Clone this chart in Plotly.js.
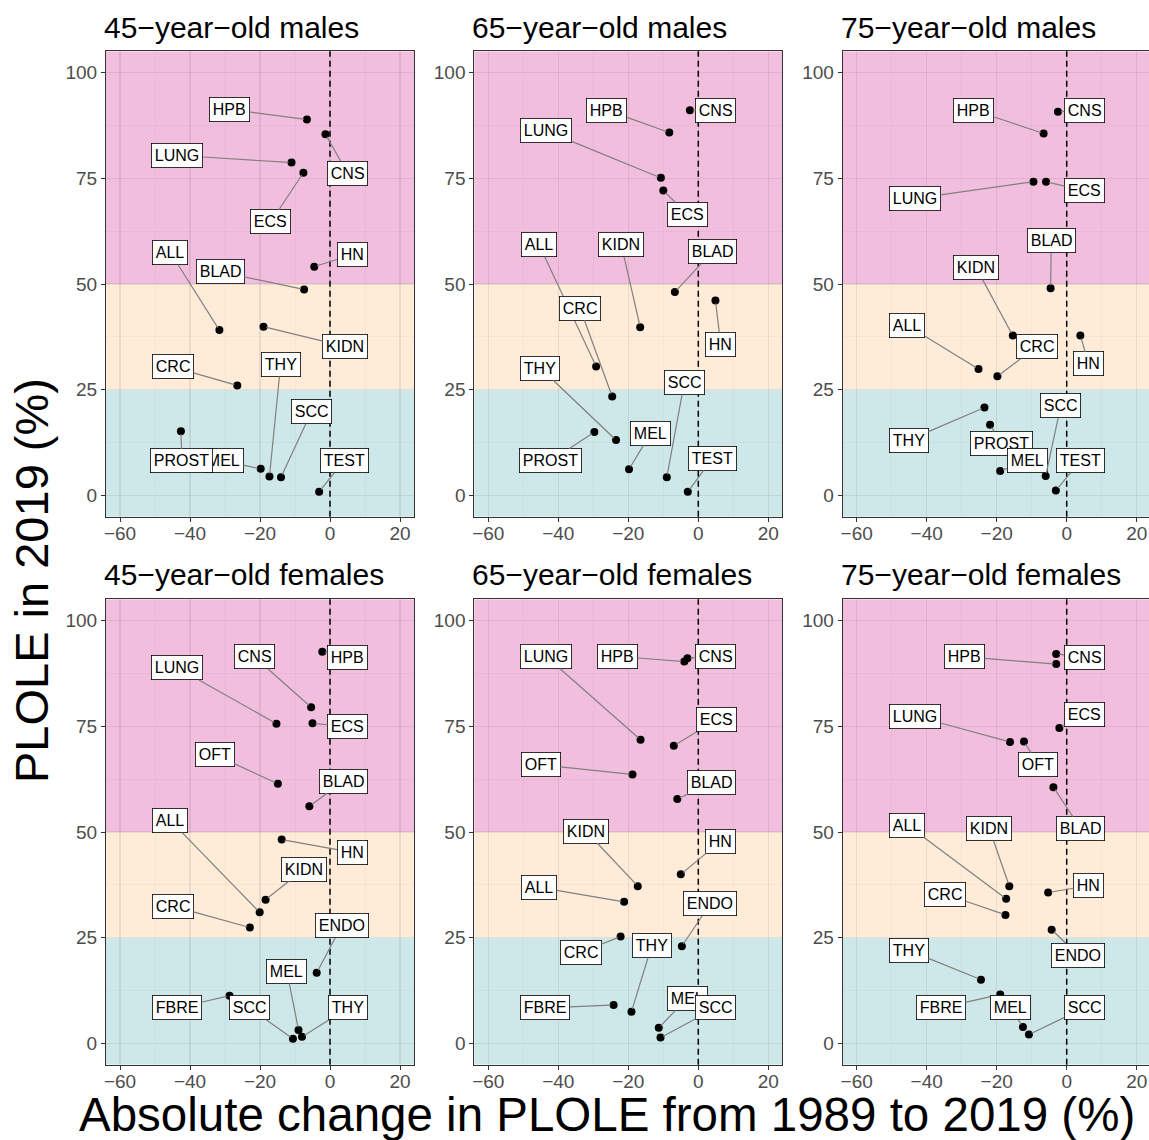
<!DOCTYPE html>
<html><head><meta charset="utf-8">
<script src="https://cdn.plot.ly/plotly-3.0.1.min.js"></script>
<style>html,body{margin:0;padding:0;background:#fff}</style>
</head><body><div id="chart" style="width:1149px;height:1140px"></div>
<script>
// ---------- DATA ----------
const panelTitles = ["45\u2212year\u2212old males","65\u2212year\u2212old males","75\u2212year\u2212old males",
                     "45\u2212year\u2212old females","65\u2212year\u2212old females","75\u2212year\u2212old females"];

// 45-year-old males
const m45_site   = ["HPB","CNS","LUNG","ECS","HN","ALL","BLAD","KIDN","CRC","MEL","PROST","THY","SCC","TEST"];
const m45_change = [-6.6,-1.3,-11.0,-7.6,-4.5,-31.6,-7.4,-19.0,-26.5,-19.8,-42.6,-17.3,-14.0,-3.1];
const m45_plole  = [88.9,85.4,78.7,76.3,54.1,39.1,48.7,39.9,26.0,6.3,15.2,4.5,4.3,0.9];
// 65-year-old males
const m65_site   = ["CNS","HPB","LUNG","ECS","BLAD","HN","KIDN","ALL","CRC","THY","PROST","MEL","SCC","TEST"];
const m65_change = [-2.4,-8.3,-10.7,-10.0,-6.7,4.9,-16.6,-29.2,-24.6,-23.5,-29.7,-19.8,-9.0,-3.0];
const m65_plole  = [91.1,85.8,75.1,72.1,48.1,46.1,39.8,30.5,23.4,13.1,15.0,6.2,4.3,0.9];
// 75-year-old males
const m75_site   = ["CNS","HPB","LUNG","ECS","BLAD","KIDN","HN","ALL","CRC","THY","PROST","MEL","SCC","TEST"];
const m75_change = [-2.5,-6.6,-9.5,-5.9,-4.6,-15.4,3.9,-25.2,-19.8,-23.5,-21.9,-19.0,-6.0,-3.1];
const m75_plole  = [90.7,85.6,74.2,74.2,49.0,37.8,37.8,29.9,28.2,20.8,16.7,5.8,4.6,1.2];
// 45-year-old females
const f45_site   = ["HPB","CNS","ECS","LUNG","OFT","BLAD","HN","KIDN","ALL","CRC","ENDO","MEL","FBRE","SCC","THY"];
const f45_change = [-2.2,-5.4,-5.0,-15.3,-14.9,-5.9,-13.8,-18.4,-20.1,-22.9,-3.8,-9.0,-28.7,-10.6,-8.0];
const f45_plole  = [92.6,79.5,75.7,75.6,61.4,56.1,48.2,34.0,31.0,27.4,16.7,3.2,11.3,1.1,1.6];
// 65-year-old females
const f65_site   = ["CNS","HPB","LUNG","ECS","OFT","BLAD","KIDN","HN","ALL","ENDO","CRC","THY","FBRE","MEL","SCC"];
const f65_change = [-3.1,-4.0,-16.5,-7.0,-18.8,-6.0,-17.3,-5.0,-21.2,-4.7,-22.2,-19.1,-24.2,-11.3,-10.8];
const f65_plole  = [91.1,90.3,71.8,70.4,63.6,57.8,37.2,40.0,33.5,23.0,25.3,7.5,9.1,3.7,1.4];
// 75-year-old females
const f75_site   = ["CNS","HPB","ECS","LUNG","OFT","BLAD","KIDN","ALL","HN","CRC","ENDO","THY","FBRE","MEL","SCC"];
const f75_change = [-3.0,-3.0,-2.1,-16.2,-12.2,-3.8,-16.4,-17.3,-5.3,-17.5,-4.3,-24.5,-19.0,-12.5,-10.8];
const f75_plole  = [92.1,89.7,74.6,71.3,71.4,60.6,37.2,34.2,35.7,30.4,26.9,15.1,11.6,3.9,2.1];

// label placement (repelled label centres, in axis units)
const m45_labX = [-28.8,5.0,-43.6,-16.9,6.3,-45.6,-31.4,4.4,-44.9,-30.5,-42.3,-14.1,-5.3,4.0];
const m45_labY = [91.3,76.2,80.4,64.7,56.9,57.4,52.9,35.2,30.4,8.2,8.2,31.0,19.8,8.2];
const m65_labX = [5.0,-26.1,-43.5,-3.0,4.0,6.4,-22.0,-45.5,-33.8,-45.1,-42.2,-13.6,-4.0,4.1];
const m65_labY = [91.1,91.1,86.2,66.4,57.6,35.7,59.3,59.3,44.3,30.1,8.2,14.7,26.7,8.8];
const m75_labX = [5.0,-26.7,-43.4,5.1,-4.4,-25.9,6.3,-45.5,-8.6,-45.1,-18.5,-11.3,-1.7,4.0];
const m75_labY = [91.1,91.1,70.2,72.0,60.2,53.9,31.1,40.2,35.2,13.1,12.3,8.2,21.2,8.2];
const f45_labX = [5.0,-21.6,5.0,-43.6,-33.0,3.9,6.3,-7.4,-45.6,-44.9,3.3,-12.3,-43.8,-23.0,5.2];
const f45_labY = [91.3,91.4,74.9,88.8,68.3,62.0,45.2,41.2,52.7,32.5,27.8,17.0,8.4,8.4,8.4];
const f65_labX = [5.0,-23.0,-43.5,5.1,-45.0,3.9,-32.1,6.4,-45.5,3.4,-33.6,-13.3,-43.7,-3.2,5.0];
const f65_labY = [91.5,91.5,91.5,76.5,65.9,61.6,50.2,47.8,36.9,33.0,21.5,23.2,8.4,10.7,8.4];
const f75_labX = [5.0,-29.2,5.1,-43.4,-8.1,4.0,-22.1,-45.5,6.3,-34.7,3.3,-45.1,-36.0,-16.1,5.0];
const f75_labY = [91.3,91.4,77.7,77.4,65.9,50.8,50.8,51.6,37.3,35.3,20.9,22.0,8.4,8.4,8.4];

const bandEdges = [-5, 25, 50, 105];
const bandColors = ["#cee7e8", "#feebd8", "#f1bedd"];

// ---------- LAYOUT ----------
const W = 1149, H = 1140;
const FONT = "Liberation Sans, Arial, Helvetica, sans-serif";
const panels = [
  {site:m45_site, x:m45_change, y:m45_plole, lx:m45_labX, ly:m45_labY},
  {site:m65_site, x:m65_change, y:m65_plole, lx:m65_labX, ly:m65_labY},
  {site:m75_site, x:m75_change, y:m75_plole, lx:m75_labX, ly:m75_labY},
  {site:f45_site, x:f45_change, y:f45_plole, lx:f45_labX, ly:f45_labY},
  {site:f65_site, x:f65_change, y:f65_plole, lx:f65_labX, ly:f65_labY},
  {site:f75_site, x:f75_change, y:f75_plole, lx:f75_labX, ly:f75_labY}
];
const pxPerUnit = 3.5;
const zeroPx = [330, 698.3, 1066.7];
const rowTop = [51.35, 599.35], rowBot = [516.65, 1064.65];
const titleY = [27.5, 574.5];

const data = [], annotations = [], shapes = [];
const layout = {
  width: W, height: H, margin: {l:0, r:0, t:0, b:0},
  paper_bgcolor: "#fff", plot_bgcolor: "#fff",
  font: {family: FONT, color: "#000"},
  showlegend: false
};

panels.forEach((p, i) => {
  const s = i === 0 ? "" : String(i + 1);
  const col = i % 3, row = Math.floor(i / 3);
  const left = zeroPx[col] - 64 * pxPerUnit;
  let right = zeroPx[col] + 24 * pxPerUnit;
  let xmax = 24;
  if (right > W) { right = W; xmax = (W - zeroPx[col]) / pxPerUnit; }
  const common = {
    showline: true, mirror: true, linecolor: "#333", linewidth: 1,
    ticks: "outside", ticklen: 4, tickcolor: "#333", tickwidth: 1,
    tickfont: {size: 19, color: "#4d4d4d", family: FONT},
    showgrid: true, gridcolor: "rgba(0,0,0,0.07)", gridwidth: 1.1,
    zeroline: false, fixedrange: true
  };
  layout["xaxis" + s] = Object.assign({}, common, {
    domain: [left / W, right / W], range: [-64, xmax], tick0: 0, dtick: 20,
    anchor: "y" + s, ticklabelstandoff: -4,
    minor: {dtick: 10, showgrid: true, gridcolor: "rgba(0,0,0,0.045)", gridwidth: 0.6}
  });
  layout["yaxis" + s] = Object.assign({}, common, {
    domain: [1 - rowBot[row] / H, 1 - rowTop[row] / H], range: [-5, 105], tick0: 0, dtick: 25,
    anchor: "x" + s,
    minor: {dtick: 12.5, showgrid: true, gridcolor: "rgba(0,0,0,0.045)", gridwidth: 0.6}
  });
  // background bands
  for (let b = 0; b < bandColors.length; b++) {
    shapes.push({type: "rect", xref: "x" + s + " domain", yref: "y" + s, x0: 0, x1: 1,
      y0: bandEdges[b], y1: bandEdges[b + 1], fillcolor: bandColors[b], line: {width: 0}, layer: "below"});
  }
  // dashed zero line
  shapes.push({type: "line", xref: "x" + s, yref: "y" + s + " domain", x0: 0, x1: 0, y0: 0, y1: 1,
    line: {color: "#000", width: 1.5, dash: "6px,4px"}, layer: "below"});
  // points
  data.push({type: "scatter", mode: "markers", x: p.x, y: p.y, xaxis: "x" + s, yaxis: "y" + s,
    marker: {color: "#000", size: 8}, hoverinfo: "skip", cliponaxis: false});
  // labels
  p.site.forEach((name, k) => {
    annotations.push({xref: "x" + s, yref: "y" + s, axref: "x" + s, ayref: "y" + s,
      x: p.x[k], y: p.y[k], ax: p.lx[k], ay: p.ly[k], text: name,
      showarrow: true, arrowhead: 0, arrowwidth: 1.2, arrowcolor: "#808080", standoff: 3,
      bgcolor: "#ffffff", bordercolor: "#000", borderwidth: 0.8, borderpad: 3,
      font: {size: 16, color: "#000", family: FONT}});
  });
  // panel title
  annotations.push({xref: "paper", yref: "paper", x: (left - 4) / W, y: 1 - titleY[row] / H,
    xanchor: "left", yanchor: "middle", text: panelTitles[i], showarrow: false,
    font: {size: 30, color: "#000", family: FONT}});
});

annotations.push({xref: "paper", yref: "paper", x: 607 / W, y: 1 - 1114 / H, xanchor: "center", yanchor: "middle",
  text: "Absolute change in PLOLE from 1989 to 2019 (%)", showarrow: false, font: {size: 47.5, color: "#000", family: FONT}});
annotations.push({xref: "paper", yref: "paper", x: 31 / W, y: 1 - 581 / H, xanchor: "center", yanchor: "middle",
  text: "PLOLE in 2019 (%)", textangle: -90, showarrow: false, font: {size: 47, color: "#000", family: FONT}});

layout.annotations = annotations;
layout.shapes = shapes;

Plotly.newPlot("chart", data, layout, {displayModeBar: false, staticPlot: true});
</script>
</body></html>
